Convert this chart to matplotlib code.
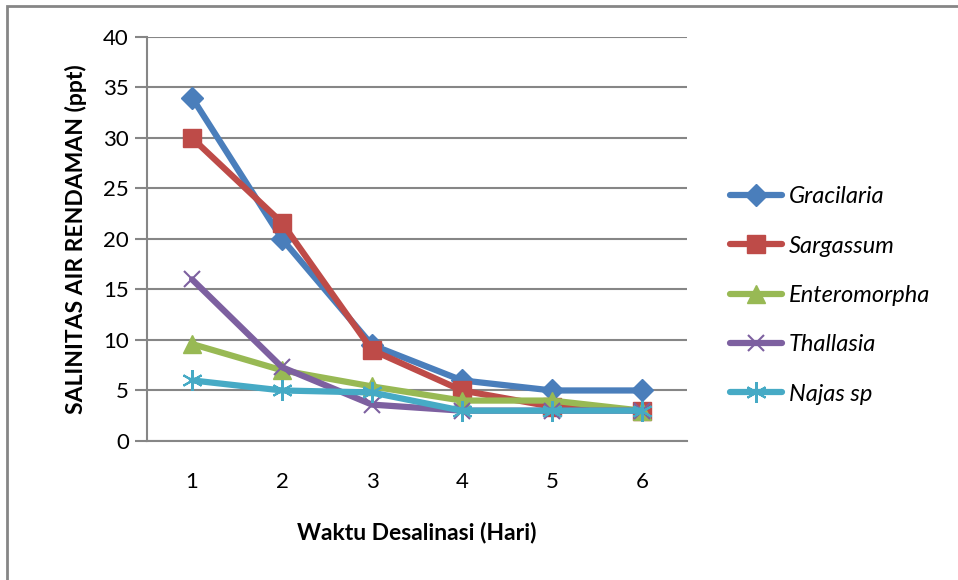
import numpy as np
import matplotlib.pyplot as plt
from matplotlib.patches import Rectangle

plt.rcParams["font.family"] = ["Lato", "DejaVu Sans"]

days = [1, 2, 3, 4, 5, 6]
gracilaria = [34, 20, 9.5, 6, 5, 5]
sargassum = [30, 21.6, 9, 5, 3.4, 3]
enteromorpha = [9.6, 7, 5.4, 4, 4, 3]
thallasia = [16, 7.3, 3.6, 3, 3, 3]
najas = [6, 5, 4.8, 3, 3, 3]

series = [
    ("Gracilaria", gracilaria, "#4a7ebb", "D", 11),
    ("Sargassum", sargassum, "#be4b48", "s", 13),
    ("Enteromorpha", enteromorpha, "#98b954", "^", 13),
    ("Thallasia", thallasia, "#7d60a0", "x", 12),
    ("Najas sp", najas, "#46aac5", (6, 2, 0), 15),
]

fig = plt.figure(figsize=(9.58, 5.80), dpi=100)
ax = fig.add_axes([0.1535, 0.2397, 0.5635, 0.6966])

for name, vals, col, mk, ms in series:
    ax.plot(days, vals, color=col, linewidth=4.5, marker=mk, markersize=ms,
            markeredgecolor=col, markeredgewidth=1.5 if mk in ("x", (6, 2, 0)) else 1,
            label=name, solid_capstyle="round", solid_joinstyle="round")

ax.set_xlim(0.5, 6.5)
ax.set_ylim(0, 40)
ax.set_yticks(np.arange(0, 41, 5))
ax.set_xticks(days)
ax.grid(axis="y", color="#868686", linewidth=1.5)
ax.set_axisbelow(True)
for s in ["top", "right"]:
    ax.spines[s].set_visible(False)
for s in ["left", "bottom"]:
    ax.spines[s].set_color("#868686")
    ax.spines[s].set_linewidth(1.5)
ax.tick_params(axis="y", length=9, width=1.5, color="#868686", labelsize=16, pad=4)
ax.tick_params(axis="x", length=0, labelsize=16, pad=22)

ax.set_ylabel("SALINITAS AIR RENDAMAN (ppt)", fontsize=16.5, fontweight="bold", labelpad=12)
ax.set_xlabel("Waktu Desalinasi (Hari)", fontsize=16.5, fontweight="bold", labelpad=22)

leg = ax.legend(loc="center left", bbox_to_anchor=(1.04, 0.36), frameon=False,
                prop={"size": 17, "style": "italic"}, labelspacing=1.2,
                handlelength=2.2, handletextpad=0.3)

# outer chart border (only top and left visible in reference)
fig.patches.append(Rectangle((7 / 958, -0.1), 1.2, 1 - 6 / 580 + 0.1,
                             transform=fig.transFigure, fill=False,
                             edgecolor="#868686", linewidth=2))

plt.savefig("out.png", dpi=100)
plt.close()
